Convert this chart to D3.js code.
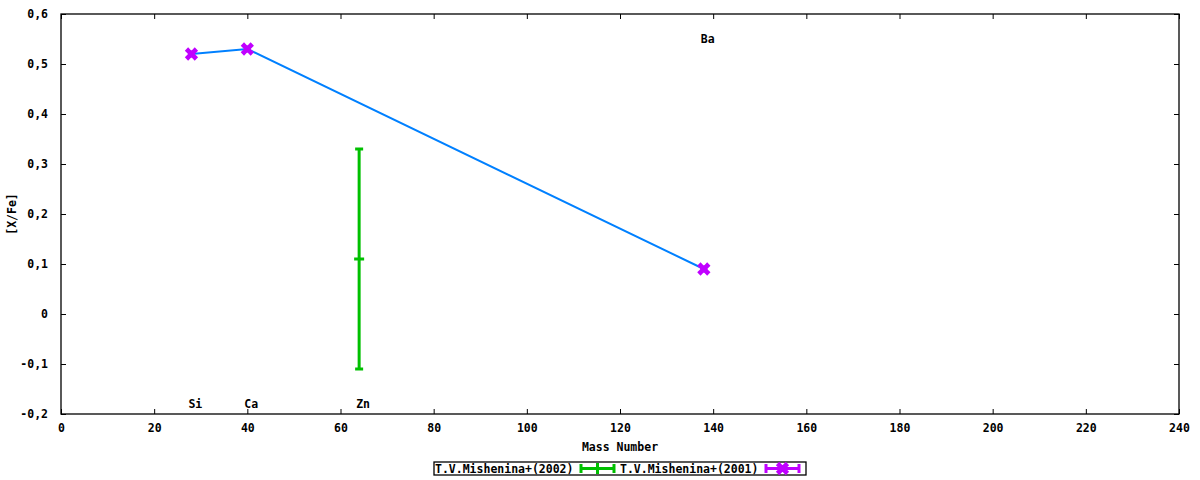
<!DOCTYPE html>
<html>
<head>
<meta charset="utf-8">
<script src="https://cdn.jsdelivr.net/npm/d3@7"></script>
<style>
  body { margin: 0; background: #fff; }
  text { font-family: "DejaVu Sans Mono", monospace; font-weight: bold; font-size: 11.5px; fill: #000; }
</style>
</head>
<body>
<svg id="chart" width="1200" height="480"></svg>
<script>
// values
const seriesNames = ['T.V.Mishenina+(2002)', 'T.V.Mishenina+(2001)']
const mass2002 = [64]
const xfe2002 = [0.11]
const err2002 = [0.22]
const mass2001 = [28, 40, 138]
const xfe2001 = [0.52, 0.53, 0.09]
const elemNames = ['Si', 'Ca', 'Zn', 'Ba']
const elemMass = [28, 40, 64, 138]
const elemLabelY = [-0.18, -0.18, -0.18, 0.55]
const xTicks = d3.range(0, 241, 20)
const yTicks = [-0.2, -0.1, 0, 0.1, 0.2, 0.3, 0.4, 0.5, 0.6]

const svg = d3.select('#chart')
const plotL = 61, plotR = 1179, plotT = 14, plotB = 414

const x = d3.scaleLinear().domain([0, 240]).range([plotL, plotR])
const y = d3.scaleLinear().domain([-0.2, 0.6]).range([plotB, plotT])

const fmtY = d => d === 0 ? '0' : String(d).replace('.', ',')
const fmtX = d => String(d)

// inward ticks, mirrored on all four sides
const tickLen = 5
svg.append('g')
  .attr('transform', `translate(0,${plotB})`)
  .call(d3.axisBottom(x).tickValues(xTicks).tickSize(-tickLen).tickPadding(10).tickFormat(fmtX))
svg.append('g')
  .attr('transform', `translate(0,${plotT})`)
  .call(d3.axisTop(x).tickValues(xTicks).tickSize(-tickLen).tickFormat(''))
svg.append('g')
  .attr('transform', `translate(${plotL},0)`)
  .call(d3.axisLeft(y).tickValues(yTicks).tickSize(-tickLen).tickPadding(13).tickFormat(fmtY))
svg.append('g')
  .attr('transform', `translate(${plotR},0)`)
  .call(d3.axisRight(y).tickValues(yTicks).tickSize(-tickLen).tickFormat(''))

svg.selectAll('.domain').remove()
svg.selectAll('.tick line').attr('stroke', '#000')
svg.selectAll('.tick text').style('font-family', '"DejaVu Sans Mono", monospace').style('font-size', '11.5px').style('font-weight', 'bold')

// frame
svg.append('rect')
  .attr('x', plotL).attr('y', plotT)
  .attr('width', plotR - plotL).attr('height', plotB - plotT)
  .attr('fill', 'none').attr('stroke', '#000').attr('stroke-width', 1.3)

// axis titles
svg.append('text')
  .attr('x', (plotL + plotR) / 2).attr('y', 451)
  .attr('text-anchor', 'middle')
  .text('Mass Number')
svg.append('text')
  .attr('transform', 'translate(16,214) rotate(-90)')
  .attr('text-anchor', 'middle')
  .text('[X/Fe]')

// element labels
svg.append('g').selectAll('text')
  .data(elemNames)
  .enter().append('text')
  .attr('x', (d, i) => x(elemMass[i]) - 3)
  .attr('y', (d, i) => y(elemLabelY[i]) + 4)
  .text(d => d)

const green = '#00c000'
const purple = '#c000ff'
const blue = '#0080ff'

// 2002 series: error bars
const eb = svg.append('g').attr('stroke', green).attr('stroke-width', 3)
mass2002.forEach((m, i) => {
  const cx = x(m)
  const y0 = y(xfe2002[i] - err2002[i]), y1 = y(xfe2002[i] + err2002[i]), yc = y(xfe2002[i])
  eb.append('line').attr('x1', cx).attr('x2', cx).attr('y1', y0).attr('y2', y1)
  eb.append('line').attr('x1', cx - 4).attr('x2', cx + 4).attr('y1', y0).attr('y2', y0)
  eb.append('line').attr('x1', cx - 4).attr('x2', cx + 4).attr('y1', y1).attr('y2', y1)
  eb.append('line').attr('x1', cx - 5).attr('x2', cx + 5).attr('y1', yc).attr('y2', yc)
})

// 2001 series: connecting line and markers
const pts2001 = mass2001.map((m, i) => [m, xfe2001[i]])
svg.append('path')
  .datum(pts2001)
  .attr('fill', 'none')
  .attr('stroke', blue)
  .attr('stroke-width', 2)
  .attr('d', d3.line().x(d => x(d[0])).y(d => y(d[1])))

const marker = d3.symbol().type(d3.symbolCross).size(110)
svg.append('g').selectAll('path')
  .data(pts2001)
  .enter().append('path')
  .attr('d', marker)
  .attr('fill', purple)
  .attr('transform', d => `translate(${x(d[0])},${y(d[1])}) rotate(45)`)
svg.append('g').selectAll('rect')
  .data(pts2001)
  .enter().append('rect')
  .attr('x', d => x(d[0]) - 3.5).attr('y', d => y(d[1]) - 3.5)
  .attr('width', 7).attr('height', 7)
  .attr('fill', purple)

// legend
const lg = svg.append('g')
lg.append('rect')
  .attr('x', 434).attr('y', 462).attr('width', 372).attr('height', 13)
  .attr('fill', 'none').attr('stroke', '#000').attr('stroke-width', 1.3)
lg.append('text').attr('x', 435).attr('y', 472.5).text(seriesNames[0])
lg.append('text').attr('x', 620).attr('y', 472.5).text(seriesNames[1])

const s1 = lg.append('g').attr('stroke', green).attr('stroke-width', 3)
s1.append('line').attr('x1', 580).attr('x2', 615).attr('y1', 468.5).attr('y2', 468.5)
s1.append('line').attr('x1', 581).attr('x2', 581).attr('y1', 464).attr('y2', 473)
s1.append('line').attr('x1', 614).attr('x2', 614).attr('y1', 464).attr('y2', 473)
s1.append('line').attr('x1', 597.5).attr('x2', 597.5).attr('y1', 463).attr('y2', 474)

const s2 = lg.append('g').attr('stroke', purple).attr('stroke-width', 3)
s2.append('line').attr('x1', 765).attr('x2', 800).attr('y1', 468.5).attr('y2', 468.5)
s2.append('line').attr('x1', 766).attr('x2', 766).attr('y1', 464).attr('y2', 473)
s2.append('line').attr('x1', 799).attr('x2', 799).attr('y1', 464).attr('y2', 473)
lg.append('path')
  .attr('d', marker)
  .attr('fill', purple)
  .attr('transform', 'translate(782.5,468.5) rotate(45)')
lg.append('rect').attr('x', 779).attr('y', 465).attr('width', 7).attr('height', 7).attr('fill', purple)
</script>
</body>
</html>
